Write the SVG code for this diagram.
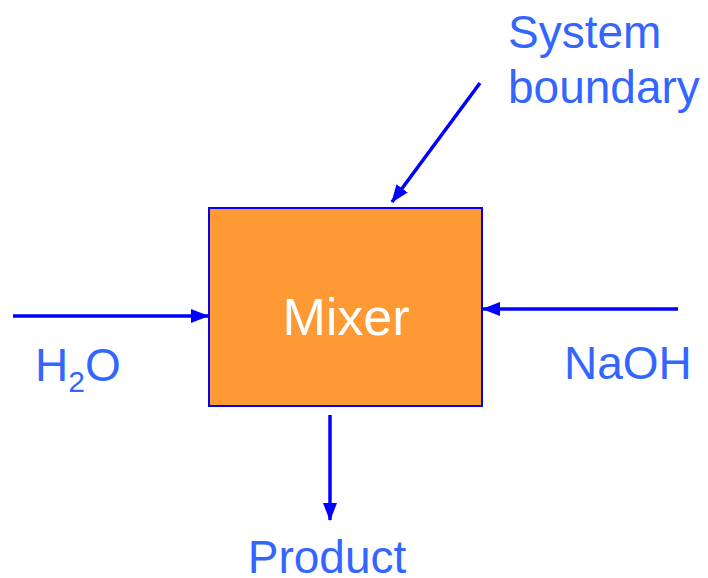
<svg xmlns="http://www.w3.org/2000/svg" width="708" height="578" viewBox="0 0 708 578">
  <defs>
    <marker id="head" viewBox="0 0 18 14" refX="17" refY="7" markerWidth="18" markerHeight="14" markerUnits="userSpaceOnUse" orient="auto">
      <path d="M0,0 L18,7 L0,14 z" fill="#0000FF"/>
    </marker>
  </defs>
  <style>
    .flow { stroke: #0000FF; stroke-width: 3.5; fill: none; marker-end: url(#head); }
    .label { font-family: "Liberation Sans", Arial, sans-serif; font-size: 46px; fill: #3366FF; }
  </style>
  <rect width="708" height="578" fill="#FFFFFF"/>

  <g id="mixer">
    <rect x="209" y="208" width="273" height="198" fill="#FF9933" stroke="#0000FF" stroke-width="2"/>
    <text x="346" y="335" text-anchor="middle" font-family="Liberation Sans, Arial, sans-serif" font-size="52" fill="#FFFFFF">Mixer</text>
  </g>

  <g id="h2o">
    <text class="label" x="35" y="381">H<tspan font-size="30" dy="11">2</tspan><tspan dy="-11">O</tspan></text>
  </g>

  <g id="naoh">
    <text class="label" x="564" y="379">NaOH</text>
  </g>

  <g id="product">
    <text class="label" x="327" y="573" text-anchor="middle">Product</text>
  </g>

  <g id="boundary-label">
    <text class="label" x="508" y="48">System</text>
    <text class="label" x="508" y="103">boundary</text>
  </g>

  <g id="connectors">
    <line class="flow" x1="13" y1="316" x2="208" y2="316"/>
    <line class="flow" x1="678" y1="309" x2="483" y2="309"/>
    <line class="flow" x1="330" y1="415" x2="330" y2="520"/>
    <line class="flow" x1="480" y1="83" x2="392" y2="202"/>
  </g>
</svg>
